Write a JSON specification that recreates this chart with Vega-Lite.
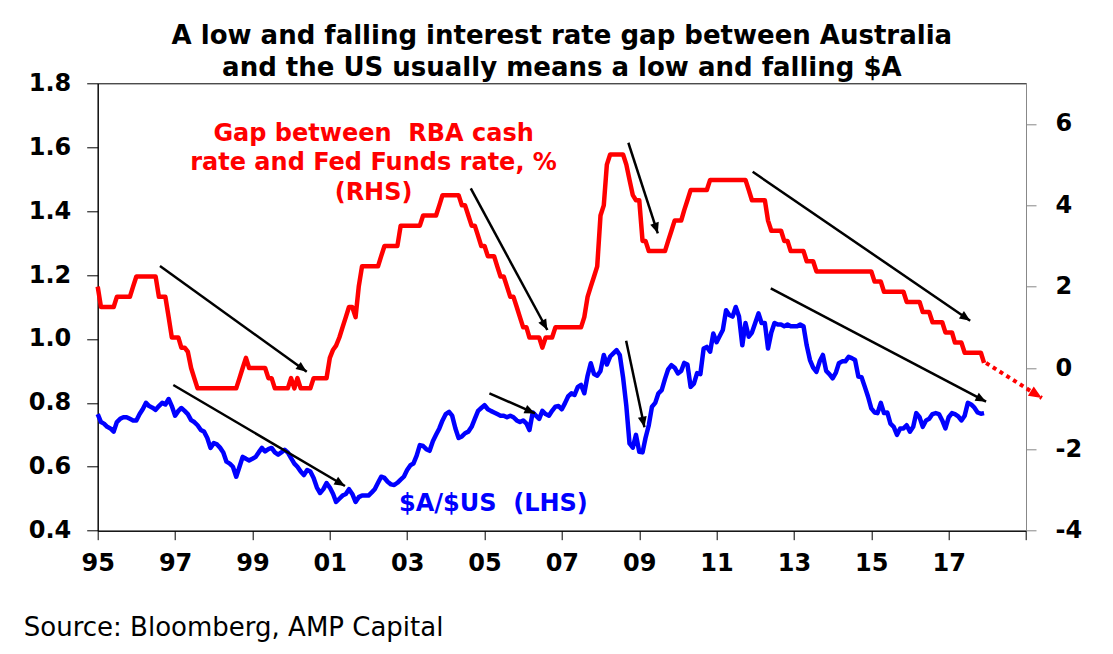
{
"$schema":"https://vega.github.io/schema/vega-lite/v6.json",
"width":928.3,"height":447.4,
"autosize":{"type":"none"},
"padding":{"left":97.7,"top":83.3,"right":87,"bottom":123.3},
"background":"#ffffff",
"config":{"font":"DejaVu Sans","view":{"stroke":"#000000","strokeWidth":1},
"axis":{"labelFont":"DejaVu Sans","labelFontSize":24,"labelFontWeight":"bold","labelColor":"#000000","domainColor":"#000000","tickColor":"#000000","grid":false}},
"title":{"text":["A low and falling interest rate gap between Australia","and the US usually means a low and falling $A"],"font":"DejaVu Sans","fontSize":26,"fontWeight":"bold","color":"#000000","anchor":"middle","frame":"group","baseline":"bottom","lineHeight":32.3,"offset":-36},
"datasets":{
"m":[
{"d":"1995-01-01","aud":0.765,"gap":2},{"d":"1995-02-01","aud":0.74,"gap":1.5},{"d":"1995-03-01","aud":0.735,"gap":1.5},{"d":"1995-04-01","aud":0.725,"gap":1.5},{"d":"1995-05-01","aud":0.72,"gap":1.5},{"d":"1995-06-01","aud":0.71,"gap":1.5},{"d":"1995-07-01","aud":0.74,"gap":1.75},{"d":"1995-08-01","aud":0.75,"gap":1.75},{"d":"1995-09-01","aud":0.755,"gap":1.75},{"d":"1995-10-01","aud":0.755,"gap":1.75},{"d":"1995-11-01","aud":0.75,"gap":1.75},{"d":"1995-12-01","aud":0.745,"gap":2},
{"d":"1996-01-01","aud":0.745,"gap":2.25},{"d":"1996-02-01","aud":0.765,"gap":2.25},{"d":"1996-03-01","aud":0.78,"gap":2.25},{"d":"1996-04-01","aud":0.8,"gap":2.25},{"d":"1996-05-01","aud":0.79,"gap":2.25},{"d":"1996-06-01","aud":0.785,"gap":2.25},{"d":"1996-07-01","aud":0.778,"gap":2.25},{"d":"1996-08-01","aud":0.79,"gap":1.75},{"d":"1996-09-01","aud":0.8,"gap":1.75},{"d":"1996-10-01","aud":0.795,"gap":1.75},{"d":"1996-11-01","aud":0.812,"gap":1.25},{"d":"1996-12-01","aud":0.79,"gap":0.75},
{"d":"1997-01-01","aud":0.76,"gap":0.75},{"d":"1997-02-01","aud":0.775,"gap":0.75},{"d":"1997-03-01","aud":0.784,"gap":0.5},{"d":"1997-04-01","aud":0.775,"gap":0.5},{"d":"1997-05-01","aud":0.765,"gap":0.4},{"d":"1997-06-01","aud":0.746,"gap":0},{"d":"1997-07-01","aud":0.74,"gap":-0.25},{"d":"1997-08-01","aud":0.73,"gap":-0.5},{"d":"1997-09-01","aud":0.715,"gap":-0.5},{"d":"1997-10-01","aud":0.71,"gap":-0.5},{"d":"1997-11-01","aud":0.69,"gap":-0.5},{"d":"1997-12-01","aud":0.659,"gap":-0.5},
{"d":"1998-01-01","aud":0.674,"gap":-0.5},{"d":"1998-02-01","aud":0.67,"gap":-0.5},{"d":"1998-03-01","aud":0.66,"gap":-0.5},{"d":"1998-04-01","aud":0.645,"gap":-0.5},{"d":"1998-05-01","aud":0.616,"gap":-0.5},{"d":"1998-06-01","aud":0.61,"gap":-0.5},{"d":"1998-07-01","aud":0.6,"gap":-0.5},{"d":"1998-08-01","aud":0.569,"gap":-0.5},{"d":"1998-09-01","aud":0.6,"gap":-0.25},{"d":"1998-10-01","aud":0.631,"gap":0},{"d":"1998-11-01","aud":0.625,"gap":0.25},{"d":"1998-12-01","aud":0.62,"gap":0},
{"d":"1999-01-01","aud":0.625,"gap":0},{"d":"1999-02-01","aud":0.631,"gap":0},{"d":"1999-03-01","aud":0.645,"gap":0},{"d":"1999-04-01","aud":0.659,"gap":0},{"d":"1999-05-01","aud":0.648,"gap":0},{"d":"1999-06-01","aud":0.655,"gap":-0.25},{"d":"1999-07-01","aud":0.659,"gap":-0.25},{"d":"1999-08-01","aud":0.645,"gap":-0.5},{"d":"1999-09-01","aud":0.638,"gap":-0.5},{"d":"1999-10-01","aud":0.645,"gap":-0.5},{"d":"1999-11-01","aud":0.653,"gap":-0.5},{"d":"1999-12-01","aud":0.645,"gap":-0.5},
{"d":"2000-01-01","aud":0.627,"gap":-0.25},{"d":"2000-02-01","aud":0.61,"gap":-0.5},{"d":"2000-03-01","aud":0.6,"gap":-0.25},{"d":"2000-04-01","aud":0.585,"gap":-0.5},{"d":"2000-05-01","aud":0.574,"gap":-0.5},{"d":"2000-06-01","aud":0.59,"gap":-0.5},{"d":"2000-07-01","aud":0.585,"gap":-0.5},{"d":"2000-08-01","aud":0.565,"gap":-0.25},{"d":"2000-09-01","aud":0.535,"gap":-0.25},{"d":"2000-10-01","aud":0.518,"gap":-0.25},{"d":"2000-11-01","aud":0.53,"gap":-0.25},{"d":"2000-12-01","aud":0.549,"gap":-0.25},
{"d":"2001-01-01","aud":0.535,"gap":0.25},{"d":"2001-02-01","aud":0.515,"gap":0.45},{"d":"2001-03-01","aud":0.49,"gap":0.55},{"d":"2001-04-01","aud":0.5,"gap":0.75},{"d":"2001-05-01","aud":0.51,"gap":1},{"d":"2001-06-01","aud":0.515,"gap":1.25},{"d":"2001-07-01","aud":0.53,"gap":1.5},{"d":"2001-08-01","aud":0.515,"gap":1.5},{"d":"2001-09-01","aud":0.49,"gap":1.25},{"d":"2001-10-01","aud":0.505,"gap":2},{"d":"2001-11-01","aud":0.51,"gap":2.5},{"d":"2001-12-01","aud":0.51,"gap":2.5},
{"d":"2002-01-01","aud":0.51,"gap":2.5},{"d":"2002-02-01","aud":0.52,"gap":2.5},{"d":"2002-03-01","aud":0.53,"gap":2.5},{"d":"2002-04-01","aud":0.55,"gap":2.5},{"d":"2002-05-01","aud":0.569,"gap":2.75},{"d":"2002-06-01","aud":0.565,"gap":3},{"d":"2002-07-01","aud":0.553,"gap":3},{"d":"2002-08-01","aud":0.545,"gap":3},{"d":"2002-09-01","aud":0.543,"gap":3},{"d":"2002-10-01","aud":0.55,"gap":3},{"d":"2002-11-01","aud":0.56,"gap":3.5},{"d":"2002-12-01","aud":0.569,"gap":3.5},
{"d":"2003-01-01","aud":0.59,"gap":3.5},{"d":"2003-02-01","aud":0.605,"gap":3.5},{"d":"2003-03-01","aud":0.61,"gap":3.5},{"d":"2003-04-01","aud":0.635,"gap":3.5},{"d":"2003-05-01","aud":0.668,"gap":3.5},{"d":"2003-06-01","aud":0.665,"gap":3.75},{"d":"2003-07-01","aud":0.655,"gap":3.75},{"d":"2003-08-01","aud":0.65,"gap":3.75},{"d":"2003-09-01","aud":0.68,"gap":3.75},{"d":"2003-10-01","aud":0.7,"gap":3.75},{"d":"2003-11-01","aud":0.72,"gap":4},{"d":"2003-12-01","aud":0.745,"gap":4.25},
{"d":"2004-01-01","aud":0.765,"gap":4.25},{"d":"2004-02-01","aud":0.772,"gap":4.25},{"d":"2004-03-01","aud":0.76,"gap":4.25},{"d":"2004-04-01","aud":0.72,"gap":4.25},{"d":"2004-05-01","aud":0.69,"gap":4.25},{"d":"2004-06-01","aud":0.695,"gap":4},{"d":"2004-07-01","aud":0.705,"gap":4},{"d":"2004-08-01","aud":0.71,"gap":3.75},{"d":"2004-09-01","aud":0.725,"gap":3.5},{"d":"2004-10-01","aud":0.75,"gap":3.5},{"d":"2004-11-01","aud":0.775,"gap":3.25},{"d":"2004-12-01","aud":0.784,"gap":3},
{"d":"2005-01-01","aud":0.793,"gap":3},{"d":"2005-02-01","aud":0.78,"gap":2.75},{"d":"2005-03-01","aud":0.775,"gap":2.75},{"d":"2005-04-01","aud":0.77,"gap":2.75},{"d":"2005-05-01","aud":0.765,"gap":2.5},{"d":"2005-06-01","aud":0.76,"gap":2.25},{"d":"2005-07-01","aud":0.76,"gap":2.25},{"d":"2005-08-01","aud":0.755,"gap":2},{"d":"2005-09-01","aud":0.76,"gap":1.75},{"d":"2005-10-01","aud":0.755,"gap":1.75},{"d":"2005-11-01","aud":0.745,"gap":1.5},{"d":"2005-12-01","aud":0.74,"gap":1.25},
{"d":"2006-01-01","aud":0.745,"gap":1},{"d":"2006-02-01","aud":0.735,"gap":1},{"d":"2006-03-01","aud":0.715,"gap":0.75},{"d":"2006-04-01","aud":0.77,"gap":0.75},{"d":"2006-05-01","aud":0.76,"gap":0.75},{"d":"2006-06-01","aud":0.75,"gap":0.75},{"d":"2006-07-01","aud":0.775,"gap":0.5},{"d":"2006-08-01","aud":0.765,"gap":0.75},{"d":"2006-09-01","aud":0.76,"gap":0.75},{"d":"2006-10-01","aud":0.775,"gap":0.75},{"d":"2006-11-01","aud":0.788,"gap":1},{"d":"2006-12-01","aud":0.79,"gap":1},
{"d":"2007-01-01","aud":0.78,"gap":1},{"d":"2007-02-01","aud":0.8,"gap":1},{"d":"2007-03-01","aud":0.82,"gap":1},{"d":"2007-04-01","aud":0.83,"gap":1},{"d":"2007-05-01","aud":0.825,"gap":1},{"d":"2007-06-01","aud":0.85,"gap":1},{"d":"2007-07-01","aud":0.856,"gap":1},{"d":"2007-08-01","aud":0.83,"gap":1.25},{"d":"2007-09-01","aud":0.885,"gap":1.75},{"d":"2007-10-01","aud":0.924,"gap":2},{"d":"2007-11-01","aud":0.89,"gap":2.25},{"d":"2007-12-01","aud":0.885,"gap":2.5},
{"d":"2008-01-01","aud":0.9,"gap":3.75},{"d":"2008-02-01","aud":0.95,"gap":4},{"d":"2008-03-01","aud":0.92,"gap":5},{"d":"2008-04-01","aud":0.945,"gap":5.25},{"d":"2008-05-01","aud":0.955,"gap":5.25},{"d":"2008-06-01","aud":0.965,"gap":5.25},{"d":"2008-07-01","aud":0.95,"gap":5.25},{"d":"2008-08-01","aud":0.88,"gap":5.25},{"d":"2008-09-01","aud":0.79,"gap":5},{"d":"2008-10-01","aud":0.673,"gap":4.625},{"d":"2008-11-01","aud":0.66,"gap":4.25},{"d":"2008-12-01","aud":0.7,"gap":4.125},
{"d":"2009-01-01","aud":0.647,"gap":4.125},{"d":"2009-02-01","aud":0.645,"gap":3.125},{"d":"2009-03-01","aud":0.69,"gap":3.125},{"d":"2009-04-01","aud":0.73,"gap":2.875},{"d":"2009-05-01","aud":0.788,"gap":2.875},{"d":"2009-06-01","aud":0.8,"gap":2.875},{"d":"2009-07-01","aud":0.83,"gap":2.875},{"d":"2009-08-01","aud":0.84,"gap":2.875},{"d":"2009-09-01","aud":0.875,"gap":2.875},{"d":"2009-10-01","aud":0.905,"gap":3.125},{"d":"2009-11-01","aud":0.918,"gap":3.375},{"d":"2009-12-01","aud":0.91,"gap":3.625},
{"d":"2010-01-01","aud":0.892,"gap":3.625},{"d":"2010-02-01","aud":0.9,"gap":3.625},{"d":"2010-03-01","aud":0.925,"gap":3.875},{"d":"2010-04-01","aud":0.92,"gap":4.125},{"d":"2010-05-01","aud":0.85,"gap":4.375},{"d":"2010-06-01","aud":0.86,"gap":4.375},{"d":"2010-07-01","aud":0.893,"gap":4.375},{"d":"2010-08-01","aud":0.89,"gap":4.375},{"d":"2010-09-01","aud":0.97,"gap":4.375},{"d":"2010-10-01","aud":0.975,"gap":4.375},{"d":"2010-11-01","aud":0.96,"gap":4.625},{"d":"2010-12-01","aud":1.017,"gap":4.625},
{"d":"2011-01-01","aud":0.99,"gap":4.625},{"d":"2011-02-01","aud":1.01,"gap":4.625},{"d":"2011-03-01","aud":1.028,"gap":4.625},{"d":"2011-04-01","aud":1.09,"gap":4.625},{"d":"2011-05-01","aud":1.075,"gap":4.625},{"d":"2011-06-01","aud":1.07,"gap":4.625},{"d":"2011-07-01","aud":1.1,"gap":4.625},{"d":"2011-08-01","aud":1.07,"gap":4.625},{"d":"2011-09-01","aud":0.98,"gap":4.625},{"d":"2011-10-01","aud":1.05,"gap":4.625},{"d":"2011-11-01","aud":1.007,"gap":4.375},{"d":"2011-12-01","aud":1.02,"gap":4.125},
{"d":"2012-01-01","aud":1.05,"gap":4.125},{"d":"2012-02-01","aud":1.08,"gap":4.125},{"d":"2012-03-01","aud":1.05,"gap":4.125},{"d":"2012-04-01","aud":1.05,"gap":4.125},{"d":"2012-05-01","aud":0.97,"gap":3.625},{"d":"2012-06-01","aud":1.02,"gap":3.375},{"d":"2012-07-01","aud":1.05,"gap":3.375},{"d":"2012-08-01","aud":1.045,"gap":3.375},{"d":"2012-09-01","aud":1.045,"gap":3.375},{"d":"2012-10-01","aud":1.04,"gap":3.125},{"d":"2012-11-01","aud":1.045,"gap":3.125},{"d":"2012-12-01","aud":1.04,"gap":2.875},
{"d":"2013-01-01","aud":1.04,"gap":2.875},{"d":"2013-02-01","aud":1.04,"gap":2.875},{"d":"2013-03-01","aud":1.045,"gap":2.875},{"d":"2013-04-01","aud":1.04,"gap":2.875},{"d":"2013-05-01","aud":0.98,"gap":2.625},{"d":"2013-06-01","aud":0.934,"gap":2.625},{"d":"2013-07-01","aud":0.91,"gap":2.625},{"d":"2013-08-01","aud":0.897,"gap":2.375},{"d":"2013-09-01","aud":0.93,"gap":2.375},{"d":"2013-10-01","aud":0.95,"gap":2.375},{"d":"2013-11-01","aud":0.9,"gap":2.375},{"d":"2013-12-01","aud":0.89,"gap":2.375},
{"d":"2014-01-01","aud":0.877,"gap":2.375},{"d":"2014-02-01","aud":0.895,"gap":2.375},{"d":"2014-03-01","aud":0.924,"gap":2.375},{"d":"2014-04-01","aud":0.93,"gap":2.375},{"d":"2014-05-01","aud":0.93,"gap":2.375},{"d":"2014-06-01","aud":0.944,"gap":2.375},{"d":"2014-07-01","aud":0.94,"gap":2.375},{"d":"2014-08-01","aud":0.934,"gap":2.375},{"d":"2014-09-01","aud":0.882,"gap":2.375},{"d":"2014-10-01","aud":0.88,"gap":2.375},{"d":"2014-11-01","aud":0.85,"gap":2.375},{"d":"2014-12-01","aud":0.82,"gap":2.375},
{"d":"2015-01-01","aud":0.783,"gap":2.375},{"d":"2015-02-01","aud":0.77,"gap":2.125},{"d":"2015-03-01","aud":0.768,"gap":2.125},{"d":"2015-04-01","aud":0.8,"gap":2.125},{"d":"2015-05-01","aud":0.768,"gap":1.875},{"d":"2015-06-01","aud":0.77,"gap":1.875},{"d":"2015-07-01","aud":0.735,"gap":1.875},{"d":"2015-08-01","aud":0.725,"gap":1.875},{"d":"2015-09-01","aud":0.7,"gap":1.875},{"d":"2015-10-01","aud":0.72,"gap":1.875},{"d":"2015-11-01","aud":0.72,"gap":1.875},{"d":"2015-12-01","aud":0.73,"gap":1.625},
{"d":"2016-01-01","aud":0.71,"gap":1.625},{"d":"2016-02-01","aud":0.725,"gap":1.625},{"d":"2016-03-01","aud":0.768,"gap":1.625},{"d":"2016-04-01","aud":0.755,"gap":1.625},{"d":"2016-05-01","aud":0.725,"gap":1.375},{"d":"2016-06-01","aud":0.745,"gap":1.375},{"d":"2016-07-01","aud":0.75,"gap":1.375},{"d":"2016-08-01","aud":0.765,"gap":1.125},{"d":"2016-09-01","aud":0.768,"gap":1.125},{"d":"2016-10-01","aud":0.765,"gap":1.125},{"d":"2016-11-01","aud":0.745,"gap":1.125},{"d":"2016-12-01","aud":0.72,"gap":0.875},
{"d":"2017-01-01","aud":0.755,"gap":0.875},{"d":"2017-02-01","aud":0.768,"gap":0.875},{"d":"2017-03-01","aud":0.765,"gap":0.625},{"d":"2017-04-01","aud":0.758,"gap":0.625},{"d":"2017-05-01","aud":0.745,"gap":0.625},{"d":"2017-06-01","aud":0.76,"gap":0.375},{"d":"2017-07-01","aud":0.8,"gap":0.375},{"d":"2017-08-01","aud":0.795,"gap":0.375},{"d":"2017-09-01","aud":0.785,"gap":0.375},{"d":"2017-10-01","aud":0.77,"gap":0.375},{"d":"2017-11-01","aud":0.766,"gap":0.375},{"d":"2017-12-01","aud":0.768,"gap":0.125}
],
"arr":[
{"id":"a1","x1":"1996-08-11","y1":1.228,"x2":"2000-05-28","y2":0.8975},
{"id":"a2","x1":"1996-12-15","y1":0.856,"x2":"2001-05-24","y2":0.54},
{"id":"a3","x1":"2004-08-24","y1":1.471,"x2":"2006-08-17","y2":1.028},
{"id":"a4","x1":"2008-09-20","y1":1.614,"x2":"2009-06-25","y2":1.3305},
{"id":"a5","x1":"2005-02-16","y1":0.83,"x2":"2006-04-23","y2":0.767},
{"id":"a6","x1":"2008-08-30","y1":0.9945,"x2":"2009-02-19","y2":0.7235},
{"id":"a7","x1":"2011-12-08","y1":1.523,"x2":"2017-07-23","y2":1.057},
{"id":"a8","x1":"2012-05-27","y1":1.158,"x2":"2017-12-20","y2":0.8036}
],
"red":[{"id":"r1","x1":"2017-12-20","y1":0.9247,"x2":"2019-05-30","y2":0.8152}],
"notes":[{"id":"gap","x":"2002-02-18","y":1.6203},{"id":"aud","x":"2002-10-16","y":0.4607}]
},
"layer":[
{"layer":[
{"data":{"name":"m"},"mark":{"type":"line","color":"#0000FF","strokeWidth":4.5,"strokeJoin":"round"},
"encoding":{
"x":{"field":"d","type":"temporal","scale":{"type":"utc","domain":[{"year":1995,"month":1,"date":1,"utc":true},{"year":2019,"month":1,"date":1,"utc":true}],"nice":false},
"axis":{"values":[{"year":1995,"month":1,"date":1,"utc":true},{"year":1997,"month":1,"date":1,"utc":true},{"year":1999,"month":1,"date":1,"utc":true},{"year":2001,"month":1,"date":1,"utc":true},{"year":2003,"month":1,"date":1,"utc":true},{"year":2005,"month":1,"date":1,"utc":true},{"year":2007,"month":1,"date":1,"utc":true},{"year":2009,"month":1,"date":1,"utc":true},{"year":2011,"month":1,"date":1,"utc":true},{"year":2013,"month":1,"date":1,"utc":true},{"year":2015,"month":1,"date":1,"utc":true},{"year":2017,"month":1,"date":1,"utc":true},{"year":2019,"month":1,"date":1,"utc":true}],
"labelExpr":"utcyear(datum.value) >= 2019 ? '' : utcFormat(datum.value, '%y')","labelFlush":false,"labelOverlap":false,"tickSize":9,"labelPadding":12,
"title":"Source: Bloomberg, AMP Capital","titleFont":"DejaVu Sans","titleFontSize":26,"titleFontWeight":"normal","titleColor":"#000000","titleX":-74.4,"titleY":104.3,"titleAlign":"left","titleBaseline":"alphabetic","titleAnchor":"start"}},
"y":{"field":"aud","type":"quantitative","scale":{"domain":[0.4,1.8],"nice":false,"zero":false},
"axis":{"orient":"left","values":[0.4,0.6,0.8,1.0,1.2,1.4,1.6,1.8],"format":".1f","tickSize":11,"labelPadding":16,"title":null}}}},
{"data":{"name":"arr"},"mark":{"type":"rule","color":"#000000","strokeWidth":2.5},
"encoding":{"x":{"field":"x1","type":"temporal"},"x2":{"field":"x2"},"y":{"field":"y1","type":"quantitative"},"y2":{"field":"y2"}}},
{"data":{"name":"arr"},"transform":[{"filter":"datum.id == 'a1'"}],"mark":{"type":"point","shape":"M0,0L-1,-0.42L-1,0.42Z","filled":true,"color":"#000000","opacity":1,"strokeWidth":0,"size":450,"angle":35.8},"encoding":{"x":{"field":"x2","type":"temporal"},"y":{"field":"y2","type":"quantitative"}}},
{"data":{"name":"arr"},"transform":[{"filter":"datum.id == 'a2'"}],"mark":{"type":"point","shape":"M0,0L-1,-0.42L-1,0.42Z","filled":true,"color":"#000000","opacity":1,"strokeWidth":0,"size":450,"angle":30.5},"encoding":{"x":{"field":"x2","type":"temporal"},"y":{"field":"y2","type":"quantitative"}}},
{"data":{"name":"arr"},"transform":[{"filter":"datum.id == 'a3'"}],"mark":{"type":"point","shape":"M0,0L-1,-0.42L-1,0.42Z","filled":true,"color":"#000000","opacity":1,"strokeWidth":0,"size":450,"angle":61.6},"encoding":{"x":{"field":"x2","type":"temporal"},"y":{"field":"y2","type":"quantitative"}}},
{"data":{"name":"arr"},"transform":[{"filter":"datum.id == 'a4'"}],"mark":{"type":"point","shape":"M0,0L-1,-0.42L-1,0.42Z","filled":true,"color":"#000000","opacity":1,"strokeWidth":0,"size":450,"angle":72.0},"encoding":{"x":{"field":"x2","type":"temporal"},"y":{"field":"y2","type":"quantitative"}}},
{"data":{"name":"arr"},"transform":[{"filter":"datum.id == 'a5'"}],"mark":{"type":"point","shape":"M0,0L-1,-0.42L-1,0.42Z","filled":true,"color":"#000000","opacity":1,"strokeWidth":0,"size":450,"angle":23.6},"encoding":{"x":{"field":"x2","type":"temporal"},"y":{"field":"y2","type":"quantitative"}}},
{"data":{"name":"arr"},"transform":[{"filter":"datum.id == 'a6'"}],"mark":{"type":"point","shape":"M0,0L-1,-0.42L-1,0.42Z","filled":true,"color":"#000000","opacity":1,"strokeWidth":0,"size":450,"angle":78.1},"encoding":{"x":{"field":"x2","type":"temporal"},"y":{"field":"y2","type":"quantitative"}}},
{"data":{"name":"arr"},"transform":[{"filter":"datum.id == 'a7'"}],"mark":{"type":"point","shape":"M0,0L-1,-0.42L-1,0.42Z","filled":true,"color":"#000000","opacity":1,"strokeWidth":0,"size":450,"angle":34.4},"encoding":{"x":{"field":"x2","type":"temporal"},"y":{"field":"y2","type":"quantitative"}}},
{"data":{"name":"arr"},"transform":[{"filter":"datum.id == 'a8'"}],"mark":{"type":"point","shape":"M0,0L-1,-0.42L-1,0.42Z","filled":true,"color":"#000000","opacity":1,"strokeWidth":0,"size":450,"angle":27.8},"encoding":{"x":{"field":"x2","type":"temporal"},"y":{"field":"y2","type":"quantitative"}}},
{"data":{"name":"red"},"mark":{"type":"rule","color":"#FF0000","strokeWidth":4,"strokeDash":[4,4]},
"encoding":{"x":{"field":"x1","type":"temporal"},"x2":{"field":"x2"},"y":{"field":"y1","type":"quantitative"},"y2":{"field":"y2"}}},
{"data":{"name":"red"},"mark":{"type":"point","shape":"M0,0L-1,-0.42L-1,0.42Z","filled":true,"color":"#FF0000","opacity":1,"strokeWidth":0,"size":676,"angle":32.5},"encoding":{"x":{"field":"x2","type":"temporal"},"y":{"field":"y2","type":"quantitative"}}},
{"data":{"name":"notes"},"transform":[{"filter":"datum.id == 'gap'"}],"mark":{"type":"text","text":["Gap between \u00a0RBA cash","rate and Fed Funds rate, %","(RHS)"],"align":"center","baseline":"alphabetic","lineHeight":29.5,"font":"DejaVu Sans","fontSize":24,"fontWeight":"bold","color":"#FF0000"},
"encoding":{"x":{"field":"x","type":"temporal"},"y":{"field":"y","type":"quantitative"}}},
{"data":{"name":"notes"},"transform":[{"filter":"datum.id == 'aud'"}],"mark":{"type":"text","text":"$A/$US \u00a0(LHS)","align":"left","baseline":"alphabetic","font":"DejaVu Sans","fontSize":24,"fontWeight":"bold","color":"#0000FF"},
"encoding":{"x":{"field":"x","type":"temporal"},"y":{"field":"y","type":"quantitative"}}}
]},
{"data":{"name":"m"},"mark":{"type":"line","color":"#FF0000","strokeWidth":4.5,"strokeJoin":"round"},
"encoding":{
"x":{"field":"d","type":"temporal","scale":{"type":"utc","domain":[{"year":1995,"month":1,"date":1,"utc":true},{"year":2019,"month":1,"date":1,"utc":true}],"nice":false}},
"y":{"field":"gap","type":"quantitative","scale":{"domain":[-4,7],"nice":false,"zero":false},
"axis":{"orient":"right","values":[-4,-2,0,2,4,6],"labelExpr":"datum.value + ''","tickSize":10,"labelPadding":19,"labelAlign":"left","domainColor":"#888888","tickColor":"#888888","title":null}}}}
],
"resolve":{"scale":{"y":"independent"},"axis":{"y":"independent"}}
}
